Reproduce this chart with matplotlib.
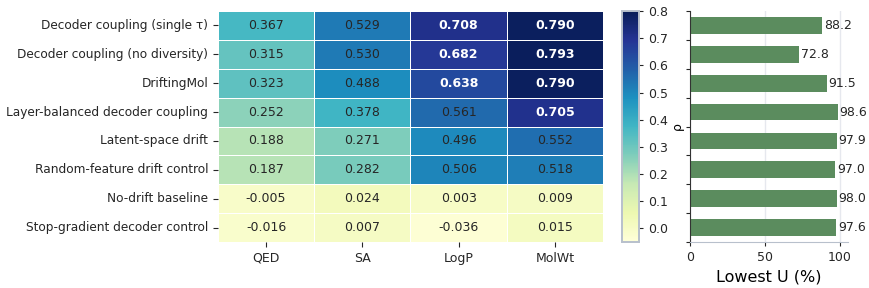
import numpy as np
import matplotlib
matplotlib.use("Agg")
import matplotlib.pyplot as plt
import seaborn as sns

##data
methods = ["Decoder coupling (single τ)", "Decoder coupling (no diversity)", "DriftingMol",
           "Layer-balanced decoder coupling", "Latent-space drift", "Random-feature drift control",
           "No-drift baseline", "Stop-gradient decoder control"]
props = ["QED", "SA", "LogP", "MolWt"]
qed = [0.367, 0.315, 0.323, 0.252, 0.188, 0.187, -0.005, -0.016]
sa = [0.529, 0.530, 0.488, 0.378, 0.271, 0.282, 0.024, 0.007]
logp = [0.708, 0.682, 0.638, 0.561, 0.496, 0.506, 0.003, -0.036]
molwt = [0.790, 0.793, 0.790, 0.705, 0.552, 0.518, 0.009, 0.015]
lowest_u = [88.2, 72.8, 91.5, 98.6, 97.9, 97.0, 98.0, 97.6]

rho = np.array([qed, sa, logp, molwt]).T

plt.rcParams["font.family"] = ["DejaVu Sans"]
plt.rcParams["text.color"] = "#262626"
plt.rcParams["xtick.color"] = "#262626"
plt.rcParams["ytick.color"] = "#262626"

fig = plt.figure(figsize=(8.7, 2.88), dpi=100)
ax = fig.add_axes([218/870, 1-242/288, 385/870, 231/288])
cax = fig.add_axes([622/870, 1-242/288, 17/870, 231/288])
bx = fig.add_axes([690/870, 1-242/288, 158/870, 231/288])

sns.heatmap(rho, ax=ax, cbar_ax=cax, cmap="YlGnBu", vmin=-0.05, vmax=0.8,
            linewidths=0.7, linecolor="white", annot=False)
##annotate cells, bold white for the strong ones
for i in range(rho.shape[0]):
    for j in range(rho.shape[1]):
        v = rho[i, j]
        if v > 0.6:
            ax.text(j+0.5, i+0.5, "%.3f" % v, ha="center", va="center", fontsize=9,
                    color="white", fontweight="bold")
        else:
            ax.text(j+0.5, i+0.5, "%.3f" % v, ha="center", va="center", fontsize=9,
                    color="#262626")
ax.set_xticklabels(props, rotation=0, fontsize=9)
ax.set_yticklabels(methods, rotation=0, fontsize=8.7)

cax.set_yticks([0.0, 0.1, 0.2, 0.3, 0.4, 0.5, 0.6, 0.7, 0.8])
cax.tick_params(labelsize=9, length=3)
cax.set_ylabel("ρ", fontsize=9, labelpad=2)
for s in cax.spines.values():
    s.set_visible(True)
    s.set_color("#b8c0cc")
    s.set_linewidth(1.2)
cax.set_frame_on(True)

##bar chart on the right
pos = np.arange(len(lowest_u)) + 0.5
bx.barh(pos, lowest_u, height=0.58, color="#5b8c5e")
for p, u in zip(pos, lowest_u):
    bx.text(u + 1, p, "%.1f" % u, va="center", ha="left", fontsize=9)
bx.set_ylim(len(lowest_u), 0)
bx.set_xlim(0, 105.4)
bx.set_yticks(np.arange(len(lowest_u) + 1))
bx.set_yticklabels([])
bx.set_xticks([0, 50, 100])
bx.tick_params(labelsize=9, length=3)
bx.set_xlabel("Lowest U (%)", fontsize=11.5)
bx.grid(axis="x", color="#e6e8ee", linewidth=1)
bx.set_axisbelow(True)
bx.spines["top"].set_visible(False)
bx.spines["right"].set_visible(False)
bx.spines["left"].set_color("#333333")
bx.spines["bottom"].set_color("#b8c0cc")

plt.savefig("out.png", dpi=100)
